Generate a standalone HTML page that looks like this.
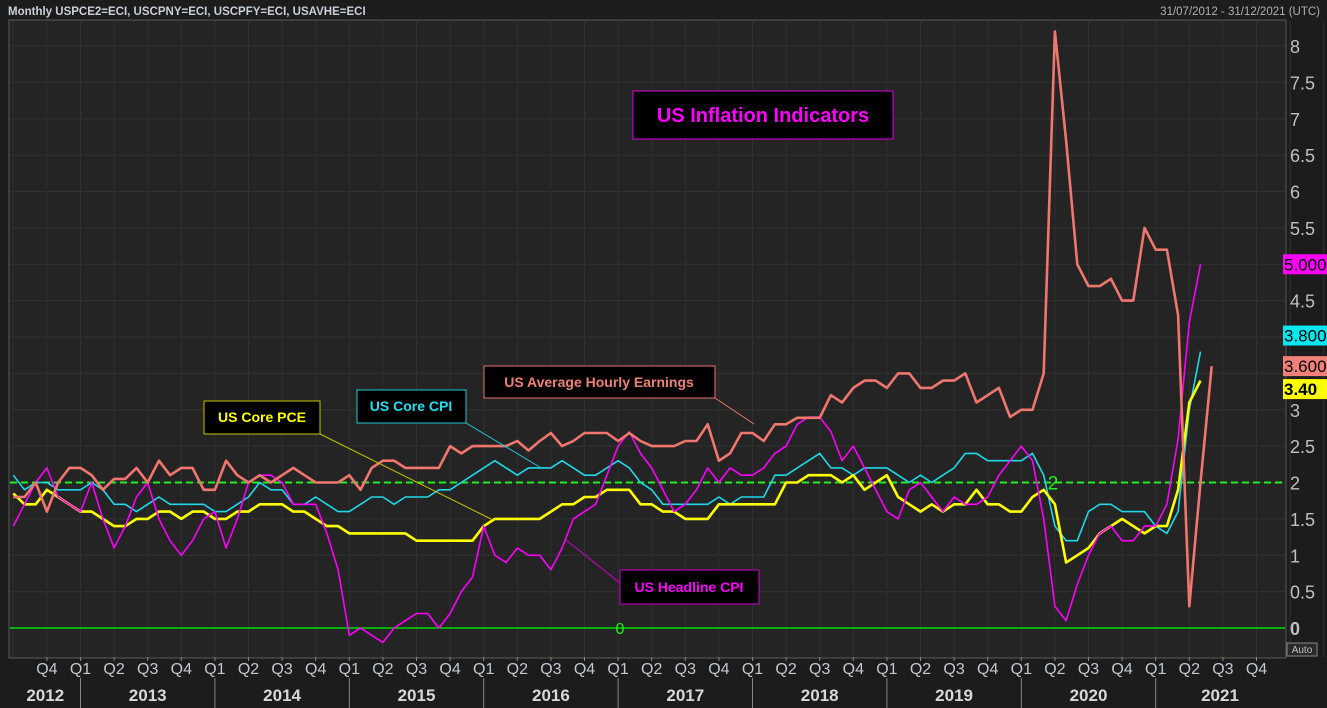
<!DOCTYPE html>
<html><head><meta charset="utf-8"><style>
html,body{margin:0;padding:0;background:#1c1c1c;}
svg{display:block;font-family:"Liberation Sans",sans-serif;}
</style></head><body>
<svg id="chart" width="1327" height="708" viewBox="0 0 1327 708">
<rect x="0" y="0" width="1327" height="708" fill="#1c1c1c"/>
<text x="8" y="15" fill="#c8d0d8" font-size="11.5" font-weight="bold">Monthly USPCE2=ECI, USCPNY=ECI, USCPFY=ECI, USAVHE=ECI</text>
<text x="1320" y="15" fill="#b0b0b0" font-size="11.5" text-anchor="end">31/07/2012 - 31/12/2021 (UTC)</text>
<rect x="9" y="20" width="1277" height="638" fill="#242424" stroke="#5a5a5a"/>
<g id="grid"></g>
<g id="lines"></g>
<g id="axes"></g>
<g>
 <rect x="633" y="91" width="260" height="48" fill="#000" stroke="#e000e0"/>
 <text x="763" y="122" fill="#ff00ff" font-size="20" font-weight="bold" text-anchor="middle">US Inflation Indicators</text>
 <line x1="715" y1="398" x2="754" y2="424" stroke="#e8736c" stroke-width="1"/>
 <rect x="484" y="366" width="231" height="32" fill="#000" stroke="#e8736c"/>
 <text x="599" y="387" fill="#f08078" font-size="14" font-weight="bold" text-anchor="middle">US Average Hourly Earnings</text>
 <line x1="466" y1="423" x2="543" y2="469" stroke="#22c8d8" stroke-width="1"/>
 <rect x="357" y="390" width="109" height="33" fill="#000" stroke="#22c8d8"/>
 <text x="411" y="411" fill="#22e0f0" font-size="14" font-weight="bold" text-anchor="middle">US Core CPI</text>
 <line x1="320" y1="434" x2="493" y2="520" stroke="#c8c000" stroke-width="1"/>
 <rect x="204" y="401" width="116" height="33" fill="#000" stroke="#c8c000"/>
 <text x="262" y="422" fill="#ffff00" font-size="14" font-weight="bold" text-anchor="middle">US Core PCE</text>
 <line x1="620" y1="583" x2="566" y2="540" stroke="#d000d0" stroke-width="1"/>
 <rect x="620" y="570" width="139" height="34" fill="#000" stroke="#d000d0"/>
 <text x="689" y="592" fill="#ff00ff" font-size="14" font-weight="bold" text-anchor="middle">US Headline CPI</text>
</g>
</svg>
<script>
const headlineCPI=[1.4,1.7,2.0,2.2,1.8,1.7,
1.6,2.0,1.5,1.1,1.4,1.8,2.0,1.5,1.2,1.0,1.2,1.5,
1.6,1.1,1.5,2.0,2.1,2.1,2.0,1.7,1.7,1.7,1.3,0.8,
-0.1,0.0,-0.1,-0.2,0.0,0.1,0.2,0.2,0.0,0.2,0.5,0.7,
1.4,1.0,0.9,1.1,1.0,1.0,0.8,1.1,1.5,1.6,1.7,2.1,
2.5,2.7,2.4,2.2,1.9,1.6,1.7,1.9,2.2,2.0,2.2,2.1,
2.1,2.2,2.4,2.5,2.8,2.9,2.9,2.7,2.3,2.5,2.2,1.9,
1.6,1.5,1.9,2.0,1.8,1.6,1.8,1.7,1.7,1.8,2.1,2.3,
2.5,2.3,1.5,0.3,0.1,0.6,1.0,1.3,1.4,1.2,1.2,1.4,
1.4,1.7,2.6,4.2,5.0];
const coreCPI=[2.1,1.9,2.0,2.0,1.9,1.9,
1.9,2.0,1.9,1.7,1.7,1.6,1.7,1.8,1.7,1.7,1.7,1.7,
1.6,1.6,1.7,1.8,2.0,1.9,1.9,1.7,1.7,1.8,1.7,1.6,
1.6,1.7,1.8,1.8,1.7,1.8,1.8,1.8,1.9,1.9,2.0,2.1,
2.2,2.3,2.2,2.1,2.2,2.2,2.2,2.3,2.2,2.1,2.1,2.2,
2.3,2.2,2.0,1.9,1.7,1.7,1.7,1.7,1.7,1.8,1.7,1.8,
1.8,1.8,2.1,2.1,2.2,2.3,2.4,2.2,2.2,2.1,2.2,2.2,
2.2,2.1,2.0,2.1,2.0,2.1,2.2,2.4,2.4,2.3,2.3,2.3,
2.3,2.4,2.1,1.4,1.2,1.2,1.6,1.7,1.7,1.6,1.6,1.6,
1.4,1.3,1.6,3.0,3.8];
const corePCE=[1.85,1.7,1.7,1.9,1.8,1.7,
1.6,1.6,1.5,1.4,1.4,1.5,1.5,1.6,1.6,1.5,1.6,1.6,
1.5,1.5,1.6,1.6,1.7,1.7,1.7,1.6,1.6,1.5,1.4,1.4,
1.3,1.3,1.3,1.3,1.3,1.3,1.2,1.2,1.2,1.2,1.2,1.2,
1.4,1.5,1.5,1.5,1.5,1.5,1.6,1.7,1.7,1.8,1.8,1.9,
1.9,1.9,1.7,1.7,1.6,1.6,1.5,1.5,1.5,1.7,1.7,1.7,
1.7,1.7,1.7,2.0,2.0,2.1,2.1,2.1,2.0,2.1,1.9,2.0,
2.1,1.8,1.7,1.6,1.7,1.6,1.7,1.7,1.9,1.7,1.7,1.6,
1.6,1.8,1.9,1.7,0.9,1.0,1.1,1.3,1.4,1.5,1.4,1.3,
1.4,1.4,1.9,3.1,3.4];
const hourlyEarnings=[1.8,1.8,2.0,1.6,2.0,2.2,
2.2,2.1,1.9,2.05,2.05,2.2,2.0,2.3,2.1,2.2,2.2,1.9,
1.9,2.3,2.1,2.0,2.1,2.0,2.1,2.2,2.1,2.0,2.0,2.0,
2.1,1.9,2.2,2.3,2.3,2.2,2.2,2.2,2.2,2.5,2.4,2.5,
2.5,2.5,2.5,2.57,2.44,2.57,2.68,2.5,2.57,2.68,2.68,2.68,
2.57,2.68,2.57,2.5,2.5,2.5,2.57,2.57,2.8,2.3,2.4,2.68,
2.68,2.57,2.8,2.8,2.89,2.89,2.89,3.2,3.1,3.3,3.4,3.4,
3.3,3.5,3.5,3.3,3.3,3.4,3.4,3.5,3.1,3.2,3.3,2.9,
3.0,3.0,3.5,8.2,6.7,5.0,4.7,4.7,4.8,4.5,4.5,5.5,
5.2,5.2,4.3,0.3,2.0,3.6];
const yTicks=[0,0.5,1,1.5,2,2.5,3,3.5,4,4.5,5,5.5,6,6.5,7,7.5,8];
const yTickLabels=["0","0.5","1","1.5","2","2.5","3","","","4.5","","5.5","6","6.5","7","7.5","8"];
const quarterLabels=["Q1","Q2","Q3","Q4"];
const years=[2012,2013,2014,2015,2016,2017,2018,2019,2020,2021];
const lastValueTags=[["5.000",5.0,"#ff00ff","#000"],["3.800",3.8,"#00e8f0","#000"],["3.600",3.6,"#f08078","#000"],["3.40",3.4,"#ffff00","#000"]];

const NS="http://www.w3.org/2000/svg";
const X0=80.5, PXM=11.2;
const xM=m=>X0+PXM*m;
const xI=i=>xM(i-6);
const yV=v=>628-72.75*v;
function mk(tag,attrs,parent){const e=document.createElementNS(NS,tag);for(const k in attrs)e.setAttribute(k,attrs[k]);parent.appendChild(e);return e;}
const grid=document.getElementById('grid'),lines=document.getElementById('lines'),axes=document.getElementById('axes');

yTicks.forEach(v=>{
 const l=mk('line',{x1:10,x2:1285,y1:yV(v),y2:yV(v),stroke:'#323232','stroke-width':1},grid);
 
 
});
for(let q=-3;q<=38;q++){
 const x=xM(q*3);
 const l=mk('line',{x1:x,x2:x,y1:21,y2:657,stroke:'#303030','stroke-width':1},grid);
 
 
}
const z=mk('line',{x1:10,x2:1285,y1:yV(0),y2:yV(0),stroke:'#00dd00','stroke-width':1.5},lines);


const zt=mk('text',{x:620,y:yV(0)+6,fill:'#22ee22','font-size':16,'text-anchor':'middle'},lines);zt.textContent='0';


const tw=mk('line',{x1:10,x2:1285,y1:yV(2),y2:yV(2),stroke:'#22ee22','stroke-width':2,'stroke-dasharray':'7,4'},lines);


const twt=mk('text',{x:1053,y:yV(2)+7,fill:'#22ee22','font-size':19,'text-anchor':'middle'},lines);twt.textContent='2';



function series(arr,color,w,name){
 const d=arr.map((v,i)=>(i?'L':'M')+xI(i).toFixed(1)+','+yV(v).toFixed(1)).join('');
 const p=mk('path',{d:d,fill:'none',stroke:color,'stroke-width':w,'stroke-linejoin':'round'},lines);
 
 
}
series(coreCPI,'#1fd8e8',1.6,'core-cpi-line');
series(corePCE,'#ffff00',2.6,'core-pce-line');
series(headlineCPI,'#ff00ff',1.6,'headline-cpi-line');
series(hourlyEarnings,'#f0766e',2.6,'hourly-earnings-line');

yTicks.forEach((v,i)=>{
 if(!yTickLabels[i])return;
 const t=mk('text',{x:1290,y:yV(v)+7,fill:'#c0c0c0','font-size':18,'font-weight':v===0?'bold':'normal'},axes);t.textContent=yTickLabels[i];
 
 
});
let prevBottom=-1e9;
lastValueTags.forEach(tg=>{
 let tTop=yV(tg[1])-10;
 if(tg[1]>3.7 && 4>tg[1]) tTop-=16;
 if(prevBottom+3 > tTop) tTop=prevBottom+3;
 prevBottom=tTop+20;
 const r=mk('rect',{x:1283,y:tTop,width:44,height:20,fill:tg[2]},axes);
 
 
 const t=mk('text',{x:1284,y:tTop+16,fill:tg[3],'font-size':17,'font-weight':tg[0]==='3.40'?'bold':'normal'},axes);t.textContent=tg[0];
 
 
});
const au=mk('rect',{x:1287,y:643,width:30,height:13,fill:'#2a2a2a',stroke:'#888'},axes);


const aut=mk('text',{x:1302,y:653,fill:'#c0c0c0','font-size':10,'text-anchor':'middle'},axes);aut.textContent='Auto';


for(let q=-1;q<=35;q++){
 const x=xM(q*3);
 const tk=mk('line',{x1:x,x2:x,y1:657,y2:661,stroke:'#888'},axes);
 
 
 const t=mk('text',{x:x,y:674,fill:'#c0c8d0','font-size':16,'text-anchor':'middle'},axes);
 t.textContent=quarterLabels[((q%4)+4)%4];
 
 
}
years.forEach((yr,i)=>{
 const m0=(yr-2013)*12;
 const xs=Math.max(10,xM(m0)), xe=Math.min(1285,xM(m0+12));
 if(yr>2012){
  const s=mk('line',{x1:xM(m0),x2:xM(m0),y1:678,y2:708,stroke:'#888'},axes);
  
  
 }
 const cx=yr===2021?1220:(xs+xe)/2;
 const t=mk('text',{x:cx,y:701,fill:'#d8d8d8','font-size':17,'font-weight':'bold','text-anchor':'middle'},axes);t.textContent=yr;
 
 
});
</script>
</body></html>
